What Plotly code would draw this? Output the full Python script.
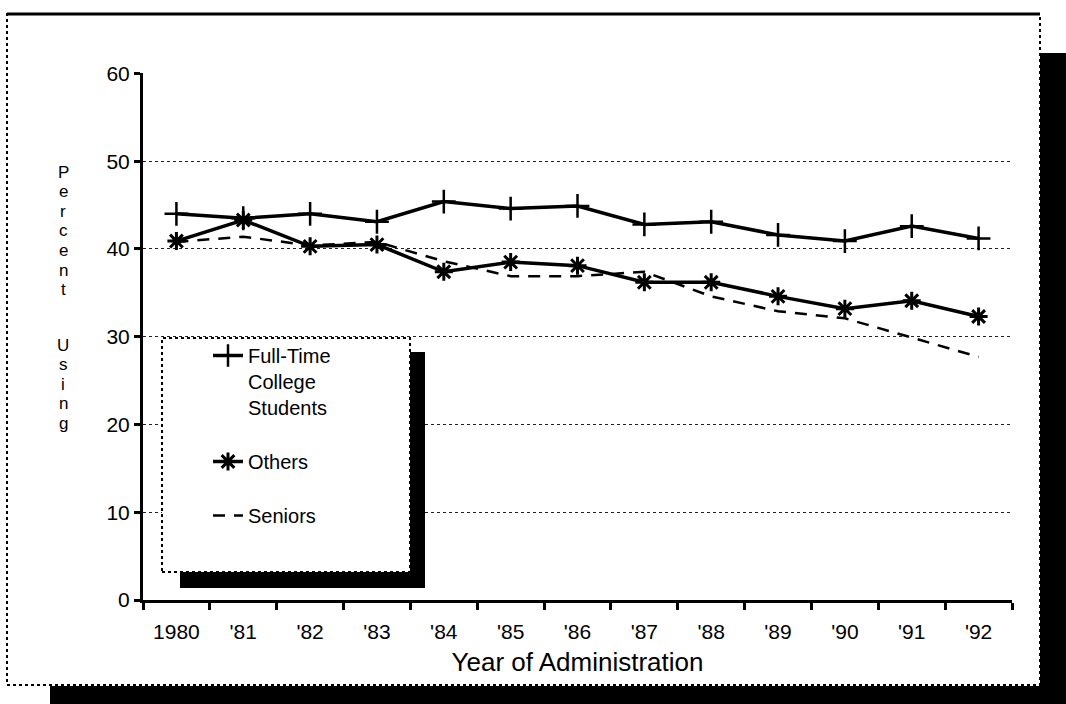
import plotly.graph_objects as go

# Survey years (category labels on the x axis)
years = ["1980", "'81", "'82", "'83", "'84", "'85", "'86",
         "'87", "'88", "'89", "'90", "'91", "'92"]

# Percent using, by group
full_time = [44.0, 43.5, 44.0, 43.1, 45.4, 44.6, 44.9, 42.8, 43.1, 41.6, 40.9, 42.6, 41.2]
others = [40.9, 43.3, 40.3, 40.5, 37.4, 38.5, 38.1, 36.2, 36.2, 34.6, 33.2, 34.1, 32.3]
seniors = [40.8, 41.4, 40.4, 40.8, 38.6, 36.9, 36.9, 37.4, 34.6, 32.9, 32.1, 29.9, 27.7]

y_ticks = [0, 10, 20, 30, 40, 50, 60]

W, H = 1066, 704
L, R, T, B = 143, 1012, 73, 600  # plot area in pixels
FONT = "Liberation Sans, Arial, Helvetica, sans-serif"


def px(x):
    return (x - L) / (R - L)


def py(y):
    return (B - y) / (B - T)


fig = go.Figure()

fig.add_trace(go.Scatter(
    x=years, y=full_time, name="Full-Time<br>College<br>Students",
    mode="lines+markers", legendgroup="a",
    line=dict(color="black", width=3.5),
    marker=dict(symbol="cross-thin-open", size=17,
                line=dict(color="black", width=2.5)),
))
fig.add_trace(go.Scatter(
    x=years, y=others, name="Others",
    mode="lines+markers", legendgroup="b",
    line=dict(color="black", width=3.5),
    marker=dict(symbol="asterisk-open", size=15,
                line=dict(color="black", width=3)),
))
fig.add_trace(go.Scatter(
    x=years, y=seniors, name="Seniors",
    mode="lines", legendgroup="c",
    line=dict(color="black", width=2.5, dash="12px,9px"),
))

shapes = []
# outer frame shadow
shapes.append(dict(type="rect", xref="paper", yref="paper", layer="above",
                   x0=px(1040), x1=px(1066), y0=py(53), y1=py(704),
                   fillcolor="black", line=dict(width=0)))
shapes.append(dict(type="rect", xref="paper", yref="paper", layer="above",
                   x0=px(50), x1=px(1066), y0=py(686), y1=py(704),
                   fillcolor="black", line=dict(width=0)))
# outer dotted frame
shapes.append(dict(type="rect", xref="paper", yref="paper", layer="below",
                   x0=px(7), x1=px(1040), y0=py(685), y1=py(14),
                   line=dict(color="black", width=2, dash="dot")))
shapes.append(dict(type="line", xref="paper", yref="paper", layer="below",
                   x0=px(7), x1=px(1040), y0=py(14), y1=py(14),
                   line=dict(color="black", width=3)))
# legend box with drop shadow
shapes.append(dict(type="rect", xref="paper", yref="paper", layer="above",
                   x0=px(180), x1=px(425), y0=py(588), y1=py(352),
                   fillcolor="black", line=dict(width=0)))
shapes.append(dict(type="rect", xref="paper", yref="paper", layer="above",
                   x0=px(162), x1=px(410), y0=py(572), y1=py(338),
                   fillcolor="white", line=dict(color="black", width=2, dash="dot")))

# stacked vertical y-axis title
annotations = []
for word, start in (("Percent", 172), ("Using", 345)):
    for i, ch in enumerate(word):
        annotations.append(dict(
            text=ch, xref="paper", yref="paper", x=px(63), y=py(start + i * 19.6),
            showarrow=False, xanchor="center", yanchor="middle",
            font=dict(family=FONT, size=17, color="black")))

fig.update_layout(
    width=W, height=H,
    margin=dict(l=L, r=W - R, t=T, b=H - B, pad=0),
    paper_bgcolor="white", plot_bgcolor="white",
    font=dict(family=FONT, color="black"),
    showlegend=True,
    legend=dict(
        x=px(208), y=py(336), xanchor="left", yanchor="top",
        bgcolor="rgba(0,0,0,0)", borderwidth=0,
        font=dict(family=FONT, size=20, color="black"),
        traceorder="grouped", tracegroupgap=25, valign="top",
        itemwidth=30,
    ),
    xaxis=dict(
        type="category", categoryorder="array", categoryarray=years,
        range=[-0.5, len(years) - 0.5],
        tickson="boundaries", ticks="outside", ticklen=7, tickwidth=2.5,
        tickcolor="black", showgrid=False, zeroline=False,
        showline=True, linecolor="black", linewidth=3,
        tickfont=dict(family=FONT, size=21, color="black"),
        ticklabelstandoff=11,
        title=dict(text="Year of Administration", standoff=11,
                   font=dict(family=FONT, size=26, color="black")),
    ),
    xaxis2=dict(
        overlaying="x", anchor="y", side="bottom",
        range=[-0.5, len(years) - 0.5],
        tickmode="array", tickvals=[i - 0.5 for i in range(len(years) + 1)],
        ticks="inside", ticklen=7, tickwidth=2.5, tickcolor="black",
        showticklabels=False, showgrid=False, zeroline=False, showline=False,
    ),
    yaxis=dict(
        range=[0, 60.05], tickmode="array", tickvals=y_ticks,
        ticks="outside", ticklen=6, tickwidth=2.5, tickcolor="black",
        showgrid=True, gridcolor="#222222", gridwidth=1.2, griddash="dot",
        zeroline=False, showline=True, linecolor="black", linewidth=3,
        tickfont=dict(family=FONT, size=21, color="black"),
    ),
    yaxis2=dict(
        overlaying="y", anchor="x", side="left",
        range=[0, 60.05], tickmode="array", tickvals=y_ticks,
        ticks="inside", ticklen=6, tickwidth=2.5, tickcolor="black",
        showticklabels=False, showgrid=False, zeroline=False, showline=False,
    ),
    shapes=shapes,
    annotations=annotations,
)

fig.write_html("out.html")
